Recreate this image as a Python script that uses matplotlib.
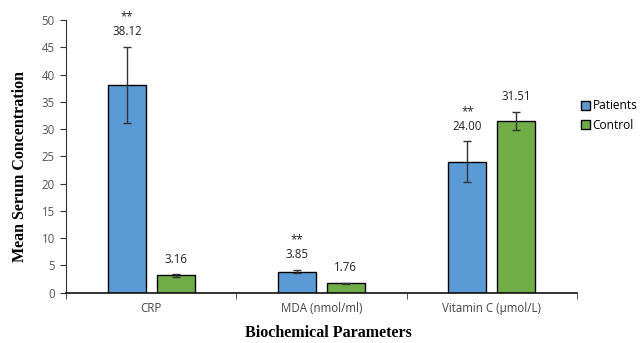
import numpy as np
import matplotlib.pyplot as plt

# data
categories = ['CRP', 'MDA (nmol/ml)', 'Vitamin C (\u00b5mol/L)']
patients = [38.12, 3.85, 24.00]
control = [3.16, 1.76, 31.51]
patients_err = [7.0, 0.3, 3.75]
control_err = [0.2, 0.1, 1.65]
patients_sig = ['**', '**', '**']

blue = '#5B9BD5'
green = '#70AD47'
tick_font = 'Open Sans'

fig = plt.figure(figsize=(6.43, 3.43), dpi=100)
ax = fig.add_axes([66/643, 1-292.7/343, 511/643, 272.7/343])

x = np.arange(len(categories))
w = 0.223
off = 0.143
ekw = dict(ecolor='#333333', elinewidth=1, capsize=3, capthick=1)
ax.bar(x - off, patients, w, color=blue, edgecolor='black', linewidth=1,
       yerr=patients_err, error_kw=ekw, label='Patients', zorder=2)
ax.bar(x + off, control, w, color=green, edgecolor='black', linewidth=1,
       yerr=control_err, error_kw=ekw, label='Control', zorder=2)

# value labels
for i in range(len(categories)):
    top = patients[i] + patients_err[i]
    ax.annotate('%.2f' % patients[i], (x[i] - off, top), xytext=(0, 11),
                textcoords='offset points', ha='center', va='center',
                fontsize=8.3, family=tick_font, color='#222222')
    ax.annotate(patients_sig[i], (x[i] - off, top), xytext=(0, 21.5),
                textcoords='offset points', ha='center', va='center',
                fontsize=8.3, family=tick_font, color='#222222')
    top = control[i] + control_err[i]
    ax.annotate('%.2f' % control[i], (x[i] + off, top), xytext=(0, 11),
                textcoords='offset points', ha='center', va='center',
                fontsize=8.3, family=tick_font, color='#222222')

ax.set_xlim(-0.5, 2.5)
ax.set_ylim(0, 50)
ax.set_yticks(np.arange(0, 51, 5))
ax.set_xticks(x)
ax.set_xticklabels(categories, family=tick_font, fontsize=8.3, color='#444444')
for lab in ax.get_yticklabels():
    lab.set_family(tick_font)
    lab.set_fontsize(8.3)
    lab.set_color('#555555')
ax.tick_params(axis='x', length=0, pad=7)
ax.set_xticks([-0.5, 0.5, 1.5, 2.5], minor=True)
ax.tick_params(axis='x', which='minor', length=4, direction='out', color='#333333')
ax.tick_params(axis='y', length=4, direction='out', color='#333333', pad=4)

for s in ['top', 'right']:
    ax.spines[s].set_visible(False)
ax.spines['left'].set_color('#333333')
ax.spines['bottom'].set_color('#111111')
ax.spines['bottom'].set_linewidth(1.2)

ax.set_xlabel('Biochemical Parameters', family='Liberation Serif', fontweight='bold',
              fontsize=11.5, va='center')
ax.xaxis.set_label_coords(0.513, -0.148)
ax.set_ylabel('Mean Serum Concentration', family='Liberation Serif', fontweight='bold',
              fontsize=11.5, va='center')
ax.yaxis.set_label_coords(-0.09, 0.461)

leg = ax.legend(loc='upper left', bbox_to_anchor=(1.0, 0.722), frameon=False,
                prop={'family': tick_font, 'size': 8.6}, handlelength=0.75, handleheight=0.75,
                handletextpad=0.25, labelspacing=0.55, borderaxespad=0.1, borderpad=0.2)
for h in leg.legend_handles:
    h.set_edgecolor('black')

plt.savefig('out.png', dpi=100)
